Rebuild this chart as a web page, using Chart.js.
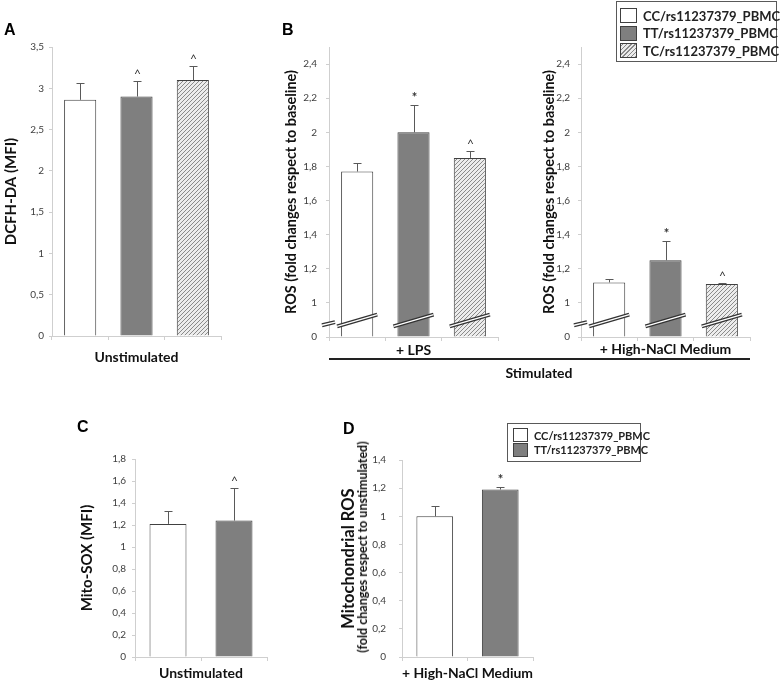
<!DOCTYPE html>
<html>
<head>
<meta charset="utf-8">
<script src="https://cdn.jsdelivr.net/npm/chart.js@4.4.1/dist/chart.umd.min.js"></script>
<style>
  body { margin: 0; background: #fff; }
  #wrap { position: relative; width: 780px; height: 682px; overflow: hidden; font-family: Lato, sans-serif; }
  #wrap canvas { position: absolute; left: 0; top: 0; }
  .letter { position: absolute; font: bold 16px "Liberation Sans", Arial, sans-serif; line-height: 16px; color: #000; }
  .txt { position: absolute; font-weight: bold; color: #111; white-space: nowrap; }
  .legend { position: absolute; border: 1px solid #595959; background: #fff; box-sizing: border-box; }
  .legend .row { display: flex; align-items: center; font-weight: bold; color: #222; white-space: nowrap; }
  .sw { flex: 0 0 auto; border: 1px solid #404040; box-sizing: border-box; margin-right: 6px; }
  .sw.white { background: #fff; }
  .sw.gray { background: #7f7f7f; }
  .sw.hatch { background: repeating-linear-gradient(-45deg, #8a8a8a 0 1px, #ececec 1px 3px); }
</style>
</head>
<body>
<div id="wrap">
  <canvas id="chartA" width="780" height="682"></canvas>
  <canvas id="chartB1" width="780" height="682"></canvas>
  <canvas id="chartB2" width="780" height="682"></canvas>
  <canvas id="chartC" width="780" height="682"></canvas>
  <canvas id="chartD" width="780" height="682"></canvas>

  <div class="letter" style="left:4px; top:22px;">A</div>
  <div class="letter" style="left:282px; top:22px;">B</div>
  <div class="letter" style="left:77px; top:419px;">C</div>
  <div class="letter" style="left:343px; top:421px;">D</div>

  <div class="legend" id="legendB" style="left:616px; top:1px; width:161px; height:61px; padding:5px 0 0 3px;"></div>
  <div class="legend" id="legendD" style="left:507px; top:423px; width:134px; height:39px; padding:4px 0 0 5px;"></div>

  <div style="position:absolute; left:329px; top:358px; width:421px; height:1.5px; background:#222;"></div>
  <div class="txt" style="left:539px; top:365px; font-size:14px; line-height:16px; transform:translateX(-50%);">Stimulated</div>
  <div class="txt" id="subD" style="left:363px; top:547px; font-size:12.5px; line-height:14px; transform:translate(-50%,-50%) rotate(-90deg);">(fold changes respect to unstimulated)</div>
</div>

<script>
// genotypes, same order everywhere
const genotypes = ['CC/rs11237379_PBMC', 'TT/rs11237379_PBMC', 'TC/rs11237379_PBMC'];

// panel A - unstimulated DCFH-DA
const aValues = [2.86, 2.90, 3.10];
const aErrors = [0.20, 0.19, 0.17];
const aMarks = ['', '^', '^'];
const aTicks = [0, 0.5, 1, 1.5, 2, 2.5, 3, 3.5];

// panel B - ROS fold change, LPS and High-NaCl
const bLpsValues = [1.77, 2.00, 1.85];
const bLpsErrors = [0.05, 0.16, 0.04];
const bLpsMarks = ['', '*', '^'];
const bNaclValues = [1.12, 1.25, 1.11];
const bNaclErrors = [0.02, 0.11, 0.005];
const bNaclMarks = ['', '*', '^'];
// broken axis: the "0" sits where 0.8 would be
const bTicks = [0.8, 1, 1.2, 1.4, 1.6, 1.8, 2, 2.2, 2.4];
const bTickLabels = ['0', '1', '1,2', '1,4', '1,6', '1,8', '2', '2,2', '2,4'];

// panel C - unstimulated Mito-SOX
const cValues = [1.21, 1.24];
const cErrors = [0.12, 0.30];
const cMarks = ['', '^'];
const cTicks = [0, 0.2, 0.4, 0.6, 0.8, 1, 1.2, 1.4, 1.6, 1.8];

// panel D - mitochondrial ROS, High-NaCl
const dValues = [1.00, 1.19];
const dErrors = [0.07, 0.02];
const dMarks = ['', '*'];
const dTicks = [0, 0.2, 0.4, 0.6, 0.8, 1, 1.2, 1.4];

const FONT = 'Lato, sans-serif';
const comma = v => String(v).replace('.', ',');

// diagonal hatch fill for the TC bars
function makeHatch() {
  const c = document.createElement('canvas');
  c.width = 4; c.height = 4;
  const g = c.getContext('2d');
  g.fillStyle = '#ececec';
  g.fillRect(0, 0, 4, 4);
  g.strokeStyle = '#8a8a8a';
  g.lineWidth = 1;
  g.beginPath();
  g.moveTo(0, 4); g.lineTo(4, 0);
  g.moveTo(-1, 1); g.lineTo(1, -1);
  g.moveTo(3, 5); g.lineTo(5, 3);
  g.stroke();
  return g.createPattern(c, 'repeat');
}
const hatch = makeHatch();
const fills = ['#ffffff', '#7f7f7f', hatch];

// error bars (upper only) and significance marks
const errorBars = {
  id: 'errorBars',
  afterDatasetsDraw(chart) {
    const ctx = chart.ctx;
    const y = chart.scales.y;
    const ds = chart.data.datasets[0];
    chart.getDatasetMeta(0).data.forEach((bar, i) => {
      const top = Math.round(y.getPixelForValue(ds.data[i] + ds.errors[i])) + 0.5;
      const x = Math.round(bar.x) + 0.5;
      ctx.save();
      ctx.strokeStyle = '#595959';
      ctx.lineWidth = 1;
      ctx.beginPath();
      ctx.moveTo(x, bar.y);
      ctx.lineTo(x, top);
      ctx.moveTo(x - 4, top);
      ctx.lineTo(x + 4, top);
      ctx.stroke();
      if (ds.marks[i]) {
        ctx.fillStyle = '#333';
        ctx.font = (ds.marks[i] === '*' ? 'bold 13px ' : '12px ') + FONT;
        ctx.textAlign = 'center';
        ctx.textBaseline = 'bottom';
        ctx.fillText(ds.marks[i], x, top - 1);
      }
      ctx.restore();
    });
  }
};

// slanted double line showing the axis break
const axisBreak = {
  id: 'axisBreak',
  afterDatasetsDraw(chart) {
    const ctx = chart.ctx;
    const y = chart.scales.y;
    const segs = [[chart.chartArea.left - 7, y.getPixelForValue(0.869), chart.chartArea.left + 6, y.getPixelForValue(0.887)]];
    chart.getDatasetMeta(0).data.forEach(bar => {
      segs.push([bar.x - bar.width / 2 - 4, y.getPixelForValue(0.862), bar.x + bar.width / 2 + 4, y.getPixelForValue(0.931)]);
    });
    ctx.save();
    segs.forEach(s => {
      ctx.beginPath();
      ctx.moveTo(s[0], s[1]);
      ctx.lineTo(s[2], s[3]);
      ctx.strokeStyle = '#333';
      ctx.lineWidth = 4;
      ctx.stroke();
      ctx.strokeStyle = '#fff';
      ctx.lineWidth = 1.4;
      ctx.stroke();
    });
    ctx.restore();
  }
};

function panel(id, o) {
  const yLh = o.yTitleSize * 1.2;
  const xLh = 14 * 1.2;
  const [x0, y0, x1, y1] = o.plot;
  const yAxisW = x0 - o.yTitleX + yLh / 2;
  const xAxisH = o.xTitleY + xLh / 2 - y1;
  const plugins = [errorBars];
  if (o.broken) plugins.push(axisBreak);
  return new Chart(document.getElementById(id), {
    type: 'bar',
    data: {
      labels: o.labels,
      datasets: [{
        data: o.values,
        errors: o.errors,
        marks: o.marks,
        base: o.ticks[0],
        backgroundColor: fills.slice(0, o.values.length),
        borderColor: '#404040',
        borderWidth: 1,
        barPercentage: o.barPct,
        categoryPercentage: 1
      }]
    },
    options: {
      responsive: false,
      animation: false,
      events: [],
      layout: { padding: { left: x0 - yAxisW, top: y0, right: 780 - x1, bottom: 682 - y1 - xAxisH } },
      plugins: { legend: { display: false }, tooltip: { enabled: false } },
      scales: {
        x: {
          grid: { offset: true, drawOnChartArea: false, color: '#cfcfcf', tickLength: 4 },
          border: { color: '#cfcfcf' },
          ticks: { display: false },
          title: { display: true, text: o.xTitle, color: '#111', padding: 0, font: { family: FONT, size: 14, weight: 'bold' } },
          afterFit: s => { s.height = xAxisH; }
        },
        y: {
          min: o.ticks[0],
          max: o.max,
          afterBuildTicks: s => { s.ticks = o.ticks.map(v => ({ value: v })); },
          ticks: {
            callback: (v, i) => o.tickLabels ? o.tickLabels[i] : comma(o.ticks[i]),
            color: '#404040',
            padding: o.tickPad,
            font: { family: FONT, size: 10 }
          },
          grid: { drawOnChartArea: false, color: '#cfcfcf', tickLength: 3 },
          border: { color: '#cfcfcf' },
          title: { display: true, text: o.yTitle, color: '#111', padding: 0, font: { family: FONT, size: o.yTitleSize, weight: 'bold' } },
          afterFit: s => { s.width = yAxisW; }
        }
      }
    },
    plugins: plugins
  });
}

panel('chartA', {
  labels: genotypes, values: aValues, errors: aErrors, marks: aMarks,
  ticks: aTicks, max: 3.5, barPct: 0.57, tickPad: 5,
  plot: [52, 47, 221, 336], yTitle: 'DCFH-DA (MFI)', yTitleX: 11, yTitleSize: 15,
  xTitle: 'Unstimulated', xTitleY: 357
});
panel('chartB1', {
  labels: genotypes, values: bLpsValues, errors: bLpsErrors, marks: bLpsMarks,
  ticks: bTicks, tickLabels: bTickLabels, max: 2.5, barPct: 0.57, tickPad: 9, broken: true,
  plot: [329, 47, 498, 337], yTitle: 'ROS (fold changes respect to baseline)', yTitleX: 291, yTitleSize: 14.4,
  xTitle: '+ LPS', xTitleY: 350
});
panel('chartB2', {
  labels: genotypes, values: bNaclValues, errors: bNaclErrors, marks: bNaclMarks,
  ticks: bTicks, tickLabels: bTickLabels, max: 2.5, barPct: 0.57, tickPad: 8, broken: true,
  plot: [581, 47, 750, 337], yTitle: 'ROS (fold changes respect to baseline)', yTitleX: 549, yTitleSize: 14.4,
  xTitle: '+ High-NaCl Medium', xTitleY: 349
});
panel('chartC', {
  labels: genotypes.slice(0, 2), values: cValues, errors: cErrors, marks: cMarks,
  ticks: cTicks, max: 1.8, barPct: 0.56, tickPad: 6,
  plot: [135, 459, 267, 657], yTitle: 'Mito-SOX (MFI)', yTitleX: 87, yTitleSize: 15,
  xTitle: 'Unstimulated', xTitleY: 673
});
panel('chartD', {
  labels: genotypes.slice(0, 2), values: dValues, errors: dErrors, marks: dMarks,
  ticks: dTicks, max: 1.4, barPct: 0.56, tickPad: 13,
  plot: [402, 460, 533, 657], yTitle: 'Mitochondrial ROS', yTitleX: 349, yTitleSize: 16.5,
  xTitle: '+ High-NaCl Medium', xTitleY: 673
});

// legends built from the same genotype list
function buildLegend(elId, count, sw, rowH, fontSize) {
  const el = document.getElementById(elId);
  const cls = ['white', 'gray', 'hatch'];
  for (let i = 0; i < count; i++) {
    const row = document.createElement('div');
    row.className = 'row';
    row.style.height = rowH + 'px';
    row.style.fontSize = fontSize + 'px';
    row.innerHTML = '<span class="sw ' + cls[i] + '" style="width:' + sw[0] + 'px;height:' + sw[1] + 'px"></span>' + genotypes[i];
    el.appendChild(row);
  }
}
buildLegend('legendB', 3, [17, 15], 17.5, 13);
buildLegend('legendD', 2, [15, 14], 14.5, 11);
</script>
</body>
</html>
